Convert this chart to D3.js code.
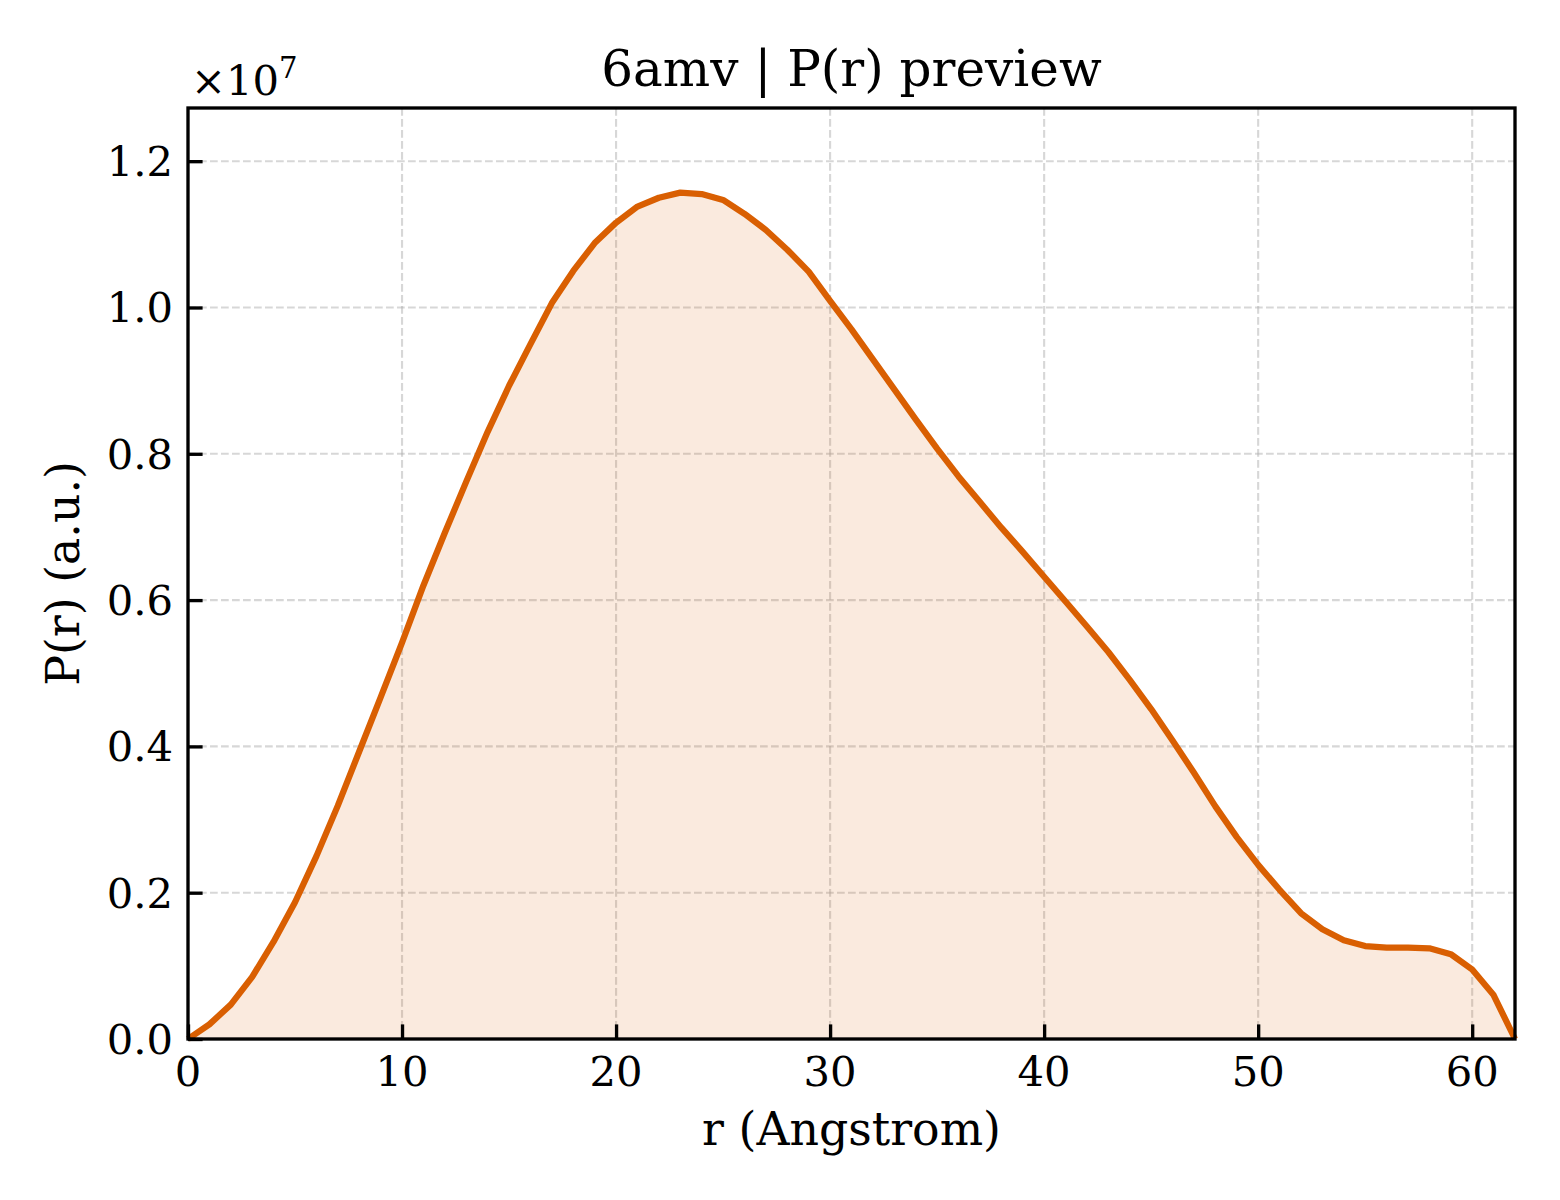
<!DOCTYPE html>
<html>
<head>
<meta charset="utf-8">
<script src="https://cdn.jsdelivr.net/npm/d3@7"></script>
<style>
  html, body { margin: 0; padding: 0; background: #ffffff; }
  svg text { font-family: "DejaVu Serif", serif; fill: #000000; }
</style>
</head>
<body>
<svg id="chart"></svg>
<script>
// DATA (P(r) in units of 1e7)
const rValues = [0, 1, 2, 3, 4, 5, 6, 7, 8, 9, 10, 11, 12, 13, 14, 15, 16, 17, 18, 19, 20,
                 21, 22, 23, 24, 25, 26, 27, 28, 29, 30, 31, 32, 33, 34, 35, 36, 37, 38, 39, 40,
                 41, 42, 43, 44, 45, 46, 47, 48, 49, 50, 51, 52, 53, 54, 55, 56, 57, 58, 59, 60,
                 61, 62];
const prValues = [0.000, 0.020, 0.047, 0.085, 0.133, 0.187, 0.250, 0.319, 0.393, 0.467, 0.542,
                  0.620, 0.692, 0.762, 0.830, 0.893, 0.950, 1.006, 1.050, 1.088, 1.116,
                  1.138, 1.150, 1.157, 1.155, 1.147, 1.128, 1.106, 1.079, 1.049, 1.009,
                  0.970, 0.929, 0.888, 0.847, 0.807, 0.769, 0.734, 0.699, 0.666, 0.632,
                  0.598, 0.564, 0.529, 0.491, 0.451, 0.408, 0.364, 0.318, 0.276, 0.238,
                  0.204, 0.172, 0.150, 0.135, 0.127, 0.125, 0.125, 0.124, 0.116, 0.095,
                  0.060, 0.000];
const prUnit = 1e7;
const xTicks = [0, 10, 20, 30, 40, 50, 60];
const yTicks = [0, 0.2e7, 0.4e7, 0.6e7, 0.8e7, 1.0e7, 1.2e7];
const titleText = '6amv | P(r) preview';
const xLabelText = 'r (Angstrom)';
const yLabelText = 'P(r) (a.u.)';

const _canvasWidth = 1560, _canvasHeight = 1200;
const _margin = {left: 188, right: 45, top: 108, bottom: 161};
const _color = {line: '#d95f02', grid: '#b0b0b0', axis: '#000000'};
const _font = {tick: 41.7, label: 45.8, title: 50};

let points = rValues.map((r, i) => ({r: r, p: prValues[i] * prUnit}));

function onInitChart(){
    let plotW = _canvasWidth - _margin.left - _margin.right;
    let plotH = _canvasHeight - _margin.top - _margin.bottom;

    let x = d3.scaleLinear()
                .domain([0, d3.max(rValues)])
                .range([0, plotW]);
    let y = d3.scaleLinear()
                .domain([0, d3.max(points, d => d.p) * 1.1])
                .range([plotH, 0]);

    let svg = d3.select('#chart')
                  .attr('width', _canvasWidth)
                  .attr('height', _canvasHeight);
        svg.append('rect')
              .attr('width', _canvasWidth)
              .attr('height', _canvasHeight)
              .attr('fill', '#ffffff');

    let plot = svg.append('g')
                    .attr('transform', `translate(${_margin.left}, ${_margin.top})`);

    // grid
    let grid = plot.append('g').attr('class', 'grid');
        grid.selectAll('line.gx')
              .data(xTicks)
              .enter()
            .append('line')
              .attr('class', 'gx')
              .attr('x1', d => x(d)).attr('x2', d => x(d))
              .attr('y1', 0).attr('y2', plotH);
        grid.selectAll('line.gy')
              .data(yTicks)
              .enter()
            .append('line')
              .attr('class', 'gy')
              .attr('x1', 0).attr('x2', plotW)
              .attr('y1', d => y(d)).attr('y2', d => y(d));
        grid.selectAll('line')
              .attr('stroke', _color.grid)
              .attr('stroke-opacity', 0.5)
              .attr('stroke-width', 2.1)
              .attr('stroke-dasharray', '7.7,3.3');

    // area + line
    plot.append('path')
          .datum(points)
          .attr('fill', _color.line)
          .attr('fill-opacity', 0.13)
          .attr('d', d3.area().x(d => x(d.r)).y0(y(0)).y1(d => y(d.p)));
    plot.append('path')
          .datum(points)
          .attr('fill', 'none')
          .attr('stroke', _color.line)
          .attr('stroke-width', 6.25)
          .attr('stroke-linejoin', 'round')
          .attr('d', d3.line().x(d => x(d.r)).y(d => y(d.p)));

    // axes, ticks pointing inward
    let xAxis = plot.append('g')
                      .attr('transform', `translate(0, ${plotH})`)
                      .call(d3.axisTop(x).tickValues(xTicks).tickSize(14.6).tickFormat(''));
    let yAxis = plot.append('g')
                      .call(d3.axisRight(y).tickValues(yTicks).tickSize(14.6).tickFormat(''));
    [xAxis, yAxis].forEach(a => {
        a.select('.domain').remove();
        a.selectAll('line').attr('stroke', _color.axis).attr('stroke-width', 3.33);
    });

    plot.selectAll('text.xtick')
          .data(xTicks)
          .enter()
        .append('text')
          .attr('class', 'xtick')
          .attr('x', d => x(d))
          .attr('y', plotH + 47)
          .attr('text-anchor', 'middle')
          .attr('font-size', _font.tick)
          .text(d => d);
    plot.selectAll('text.ytick')
          .data(yTicks)
          .enter()
        .append('text')
          .attr('class', 'ytick')
          .attr('x', -15)
          .attr('y', d => y(d) + 15)
          .attr('text-anchor', 'end')
          .attr('font-size', _font.tick)
          .text(d => d3.format('.1f')(d / prUnit));

    // frame
    plot.append('rect')
          .attr('width', plotW)
          .attr('height', plotH)
          .attr('fill', 'none')
          .attr('stroke', _color.axis)
          .attr('stroke-width', 3.33);

    // offset text
    let offset = svg.append('text')
                      .attr('x', 191)
                      .attr('y', 95)
                      .attr('font-size', _font.tick);
        offset.append('tspan').text('\u00d710');
        offset.append('tspan')
                .attr('dy', -17)
                .attr('font-size', _font.tick * 0.7)
                .text('7');

    // titles
    svg.append('text')
          .attr('x', _margin.left + plotW / 2)
          .attr('y', 86)
          .attr('text-anchor', 'middle')
          .attr('font-size', _font.title)
          .text(titleText);
    svg.append('text')
          .attr('x', _margin.left + plotW / 2)
          .attr('y', 1145)
          .attr('text-anchor', 'middle')
          .attr('font-size', _font.label)
          .text(xLabelText);
    svg.append('text')
          .attr('transform', `translate(79, ${_margin.top + plotH / 2}) rotate(-90)`)
          .attr('text-anchor', 'middle')
          .attr('font-size', _font.label)
          .text(yLabelText);
}

onInitChart();
</script>
</body>
</html>
